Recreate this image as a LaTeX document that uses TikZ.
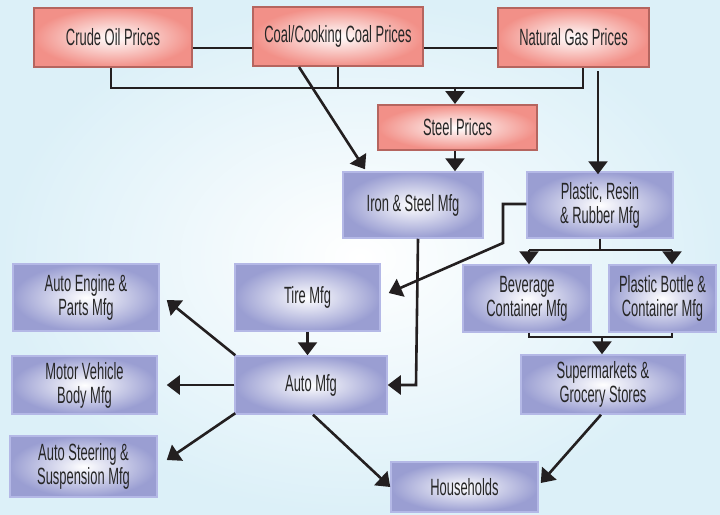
\documentclass[tikz,border=0pt]{standalone}
\usepackage{fontspec}
\setmainfont[FakeStretch=0.55]{Liberation Sans}
\usetikzlibrary{arrows.meta}
\definecolor{pinkE}{HTML}{F29088}
\definecolor{pinkB}{HTML}{B5655F}
\definecolor{blueE}{HTML}{9A9ED2}
\definecolor{blueB}{HTML}{B4B8E6}
\definecolor{bgA}{HTML}{DCF0F8}
\definecolor{txt}{HTML}{262626}
\definecolor{ln}{HTML}{231F20}
\begin{document}
\begin{tikzpicture}[x=1pt,y=-1pt,
 box/.style={rectangle, inner sep=0pt, align=center, font=\fontsize{23.5}{24}\selectfont, text=txt},
 pbox/.style={box, draw=pinkB, line width=2pt, inner color=white, outer color=pinkE},
 bbox/.style={box, draw=blueB, line width=1.5pt, inner color=white, outer color=blueE},
 con/.style={draw=ln, line width=2.6pt},
 arr/.style={con, -{Triangle[width=19pt,length=13pt]}}]
\useasboundingbox (0,0) rectangle (720,514);
\shade[inner color=white, outer color=bgA] (0,0) rectangle (720,514);

% price nodes
\node[pbox, minimum width=158pt, minimum height=59pt] (crude) at (113,37.5) {Crude Oil Prices};
\node[pbox, minimum width=170pt, minimum height=59pt] (coal) at (338,36.5) {Coal/Cooking Coal Prices};
\node[pbox, minimum width=151pt, minimum height=59pt] (gas) at (573.5,37.5) {Natural Gas Prices};
\node[pbox, minimum width=159pt, minimum height=45pt] (steel) at (457.5,127.5) {Steel Prices};

% manufacturing nodes
\node[bbox, minimum width=140pt, minimum height=66pt] (iron) at (413,205) {Iron \& Steel Mfg};
\node[bbox, minimum width=146pt, minimum height=66pt] (plastic) at (600,205) {Plastic, Resin\\\& Rubber Mfg};
\node[bbox, minimum width=128pt, minimum height=67pt] (bev) at (527,298.5) {Beverage\\Container Mfg};
\node[bbox, minimum width=107pt, minimum height=67pt] (bottle) at (662.5,298.5) {Plastic Bottle \&\\Container Mfg};
\node[bbox, minimum width=164pt, minimum height=59pt] (super) at (603,384.5) {Supermarkets \&\\Grocery Stores};
\node[bbox, minimum width=147pt, minimum height=50pt] (house) at (464.5,487) {Households};
\node[bbox, minimum width=146pt, minimum height=67pt] (engine) at (86,297.5) {Auto Engine \&\\Parts Mfg};
\node[bbox, minimum width=145pt, minimum height=67pt] (tire) at (307.5,297.5) {Tire Mfg};
\node[bbox, minimum width=152pt, minimum height=58pt] (auto) at (311,385) {Auto Mfg};
\node[bbox, minimum width=145pt, minimum height=58pt] (motor) at (84.5,385) {Motor Vehicle\\Body Mfg};
\node[bbox, minimum width=147pt, minimum height=61pt] (steer) at (83.5,466.5) {Auto Steering \&\\Suspension Mfg};

% bus coordinates
\coordinate (busL) at (111,88);
\coordinate (busR) at (583,88);
\coordinate (busS) at (455,88);
\coordinate (pl1) at (503,204);
\coordinate (pl2) at (503,243);
\coordinate (pbL) at (529,250);
\coordinate (pbR) at (672,250);
\coordinate (cbL) at (529,337);
\coordinate (cbR) at (672,337);
\coordinate (cbS) at (602,337);
\coordinate (ia) at (416,385);

% connectors
\draw[con] ([yshift=-10.5pt]crude.east) -- ([yshift=-10.5pt]crude.east -| coal.west);
\draw[con] ([yshift=-11.5pt]coal.east) -- ([yshift=-11.5pt]coal.east -| gas.west);
\draw[con] (crude.south -| busL) -- (busL) -- (busR) -- (busR |- gas.south);
\draw[con] (coal.south) -- (coal.south |- busL);
\draw[arr] (busS) -- (busS |- steel.north);
\draw[arr] ([xshift=-2.5pt]steel.south) -- ([xshift=-2.5pt]steel.south |- iron.north);
\draw[arr] ([xshift=24.5pt,yshift=-3pt]gas.south) -- ([xshift=24.5pt,yshift=-3pt]gas.south |- plastic.north);
\draw[arr] ([xshift=-39pt]coal.south) -- ([xshift=-48pt,yshift=2pt]iron.north);

\draw[arr] (plastic.west |- pl1) -- (pl1) -- (pl2) -- ([shift={(8pt,4.5pt)}]tire.east);
\draw[con] (plastic.south) -- (plastic.south |- pbL);
\draw[con] (pbL) -- (pbR);
\draw[arr] (pbR) -- (pbR |- bottle.north);
\draw[arr] (pbL) -- (pbL |- bev.north);
\draw[con] (bev.south -| cbL) -- (cbL) -- (cbR) -- (cbR |- bottle.south);
\draw[arr] (cbS) -- (cbS |- super.north);

\draw[arr] ([xshift=5pt]iron.south) -- (ia) -- (ia -| auto.east);
\draw[arr] (tire.south) -- (auto.north -| tire.south);
\draw[arr] ([xshift=-2pt]super.south) -- ([shift={(2pt,4pt)}]house.east);
\draw[arr] ([xshift=2pt]auto.south) -- (house.west);
\draw[arr] ([xshift=1pt]auto.north west) -- ([shift={(7pt,-2.5pt)}]engine.east);
\draw[arr] (auto.west) -- ([xshift=9pt]motor.east);
\draw[arr] ([shift={(1pt,1.5pt)}]auto.south west) -- ([shift={(9pt,6.5pt)}]steer.east);
\end{tikzpicture}
\end{document}
